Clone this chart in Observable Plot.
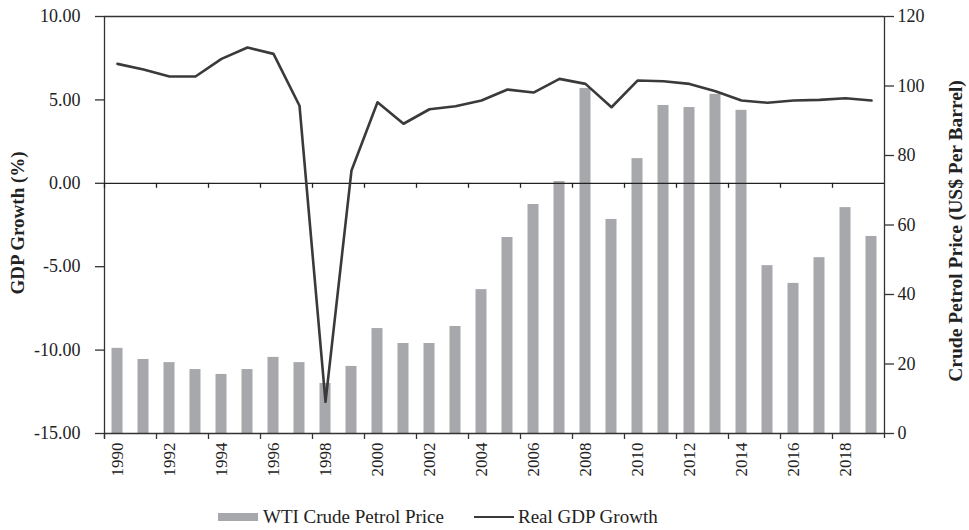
<!DOCTYPE html>
<html>
<head>
<meta charset="utf-8">
<script src="https://cdn.jsdelivr.net/npm/d3@7"></script>
<script src="https://cdn.jsdelivr.net/npm/@observablehq/plot@0.6"></script>
<style>
  html, body { margin: 0; padding: 0; background: #fff; }
  #chart svg { font-family: "Liberation Serif", "DejaVu Serif", serif; }
  .legend { font-family: "Liberation Serif", "DejaVu Serif", serif; font-size: 19px; color: #222;
    display: flex; align-items: center; padding-left: 218px; height: 34px; margin-top: 5px; }
  .legend .item { display: flex; align-items: center; }
  .legend .bar { width: 40px; height: 8px; background: #a7a8ac; margin-right: 5px; }
  .legend .line { width: 40px; height: 2.5px; background: #3a3a3a; margin-right: 4px; margin-left: 30px; }
</style>
</head>
<body>
<div id="chart"></div>
<div class="legend">
  <div class="item"><div class="bar"></div><span>WTI Crude Petrol Price</span></div>
  <div class="item"><div class="line"></div><span>Real GDP Growth</span></div>
</div>
<script>
const years = [1990, 1991, 1992, 1993, 1994, 1995, 1996, 1997, 1998, 1999,
               2000, 2001, 2002, 2003, 2004, 2005, 2006, 2007, 2008, 2009,
               2010, 2011, 2012, 2013, 2014, 2015, 2016, 2017, 2018, 2019];
const wtiPrice = [24.5, 21.3, 20.4, 18.4, 17.0, 18.4, 21.9, 20.4, 14.4, 19.3,
                  30.2, 25.9, 25.9, 30.8, 41.4, 56.4, 65.9, 72.5, 99.3, 61.6,
                  79.1, 94.4, 93.8, 97.6, 93.0, 48.3, 43.2, 50.6, 65.0, 56.7];
const gdpGrowth = [7.16, 6.82, 6.40, 6.40, 7.46, 8.14, 7.76, 4.65, -13.1, 0.77,
                   4.86, 3.57, 4.44, 4.62, 4.96, 5.62, 5.44, 6.26, 5.96, 4.56,
                   6.16, 6.12, 5.96, 5.52, 4.96, 4.83, 4.96, 5.00, 5.10, 4.96];
const leftTicks = [-15, -10, -5, 0, 5, 10];
const rightTicks = [0, 20, 40, 60, 80, 100, 120];
const yearLabels = [1990, 1992, 1994, 1996, 1998, 2000, 2002, 2004, 2006, 2008,
                    2010, 2012, 2014, 2016, 2018];
const leftTitle = "GDP Growth (%)";
const rightTitle = "Crude Petrol Price (US$ Per Barrel)";

// map right-axis (price) domain onto the left-axis (GDP) domain
const leftDomain = [-15, 10];
const rightDomain = [0, 120];
const toLeft = d3.scaleLinear().domain(rightDomain).range(leftDomain);

const data = years.map((year, i) => ({year, price: wtiPrice[i], gdp: gdpGrowth[i]}));
const xMin = years[0] - 0.5, xMax = years[years.length - 1] + 0.5;
const tickYears = yearLabels.map(y => y - 0.5);

const axisColor = "#333";

const plot = Plot.plot({
  width: 969,
  height: 495,
  marginTop: 16,
  marginLeft: 104,
  marginRight: 85,
  marginBottom: 62,
  x: {type: "linear", domain: [xMin, xMax], axis: null},
  y: {domain: leftDomain, axis: null},
  style: {fontFamily: "Liberation Serif, DejaVu Serif, serif", color: "#222", background: "#fff"},
  marks: [
    // bars (price on right axis)
    Plot.rectY(data, {
      x1: d => d.year - 0.5, x2: d => d.year + 0.5,
      y1: leftDomain[0], y2: d => toLeft(d.price),
      insetLeft: 7.5, insetRight: 7.5,
      fill: "#a7a8ac"
    }),
    // frame lines
    Plot.ruleY([leftDomain[1]], {stroke: axisColor, strokeWidth: 1.3}),
    Plot.ruleY([0], {stroke: "#222", strokeWidth: 1.3}),
    Plot.ruleY([leftDomain[0]], {stroke: axisColor, strokeWidth: 1.3}),
    Plot.ruleX([xMin], {stroke: axisColor, strokeWidth: 1.3, insetBottom: -5}),
    Plot.ruleX([xMax], {stroke: axisColor, strokeWidth: 1.3, insetBottom: -5}),
    // ticks on zero line
    Plot.ruleX(tickYears, {x: d => d, y1: 0, y2: 0, insetBottom: -5, stroke: "#222", strokeWidth: 1.3}),
    // GDP line
    Plot.line(data, {x: "year", y: "gdp", stroke: "#3a3a3a", strokeWidth: 2.6, strokeLinejoin: "round"}),
    // bottom x ticks
    Plot.axisX({ticks: tickYears, tickSize: 6, tickFormat: () => "", stroke: axisColor, strokeWidth: 1.3, label: null}),
    // year labels
    Plot.text(yearLabels, {x: d => d, text: d => String(d), frameAnchor: "bottom", rotate: -90,
      textAnchor: "end", lineAnchor: "middle", dy: 9, fontSize: 17, fill: "#222"}),
    // left axis
    Plot.axisY({ticks: leftTicks, tickSize: 9, tickPadding: 15,
      tickFormat: d => d.toFixed(2), fontSize: 18, fill: "#222", stroke: axisColor, strokeWidth: 1.3, label: null}),
    // right axis
    Plot.axisY({anchor: "right", ticks: rightTicks.map(toLeft), tickSize: 9, tickPadding: 4,
      tickFormat: d => String(Math.round(toLeft.invert(d))), fontSize: 18, fill: "#222",
      stroke: axisColor, strokeWidth: 1.3, label: null}),
    // axis titles
    Plot.text([leftTitle], {text: d => d, frameAnchor: "left", rotate: -90, dx: -87, dy: -2,
      textAnchor: "middle", lineAnchor: "middle", fontWeight: "bold", fontSize: 19, fill: "#222"}),
    Plot.text([rightTitle], {text: d => d, frameAnchor: "right", rotate: -90, dx: 71, dy: 6,
      textAnchor: "middle", lineAnchor: "middle", fontWeight: "bold", fontSize: 19.5, fill: "#222"})
  ]
});
document.getElementById("chart").appendChild(plot);
</script>
</body>
</html>
